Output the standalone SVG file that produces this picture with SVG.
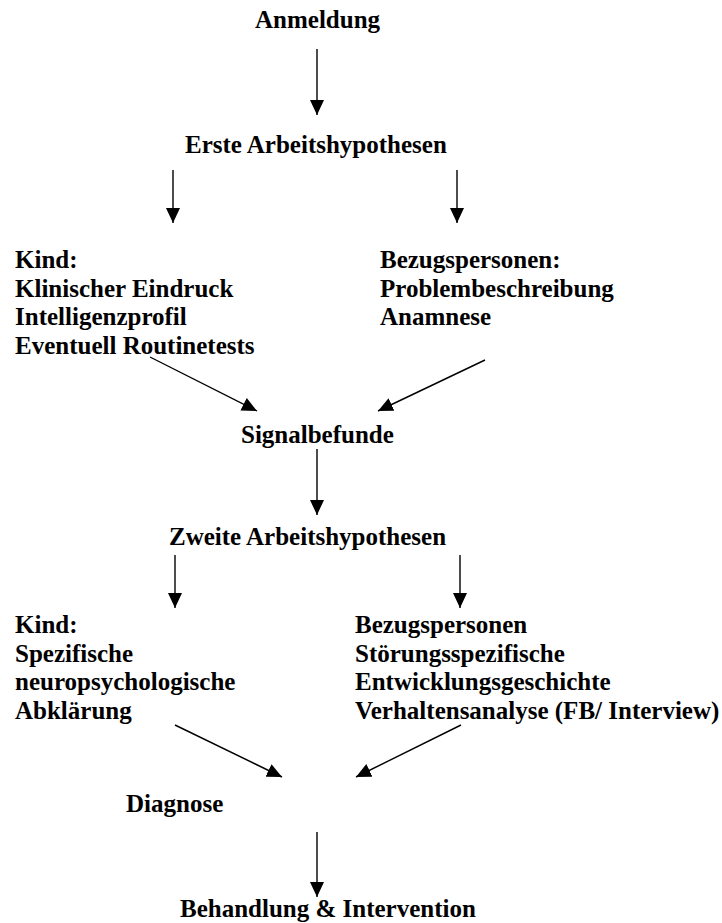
<svg xmlns="http://www.w3.org/2000/svg" width="722" height="923" viewBox="0 0 722 923">
<style>
text{font-family:"Liberation Serif","Times New Roman",serif;font-weight:bold;font-size:25px;fill:#000}
.c line{stroke:#000;stroke-width:1.4;marker-end:url(#ah)}
</style>
<defs>
<marker id="ah" markerUnits="userSpaceOnUse" markerWidth="15" markerHeight="14" refX="15" refY="7" orient="auto">
<path d="M0,0 L15,7 L0,14 z" fill="#000"/>
</marker>
</defs>
<rect width="722" height="923" fill="#fff"/>
<g id="anmeldung"><text x="255" y="28">Anmeldung</text></g>
<g id="erste"><text x="185" y="153">Erste Arbeitshypothesen</text></g>
<g id="kind1">
<text x="15" y="268">Kind:</text>
<text x="15" y="296.5">Klinischer Eindruck</text>
<text x="15" y="325">Intelligenzprofil</text>
<text x="15" y="353.5">Eventuell Routinetests</text>
</g>
<g id="bezug1">
<text x="380" y="268">Bezugspersonen:</text>
<text x="380" y="296.5">Problembeschreibung</text>
<text x="380" y="325">Anamnese</text>
</g>
<g id="signal"><text x="241" y="443">Signalbefunde</text></g>
<g id="zweite"><text x="169" y="545">Zweite Arbeitshypothesen</text></g>
<g id="kind2">
<text x="15" y="633">Kind:</text>
<text x="15" y="661.5">Spezifische</text>
<text x="15" y="690">neuropsychologische</text>
<text x="15" y="718.5">Abklärung</text>
</g>
<g id="bezug2">
<text x="355" y="633">Bezugspersonen</text>
<text x="355" y="661.5">Störungsspezifische</text>
<text x="355" y="690">Entwicklungsgeschichte</text>
<text x="355" y="718.5">Verhaltensanalyse (FB/ Interview)</text>
</g>
<g id="diagnose"><text x="126" y="812">Diagnose</text></g>
<g id="behandlung"><text x="180" y="917">Behandlung &amp; Intervention</text></g>
<g id="connectors" class="c">
<line x1="317" y1="49" x2="317" y2="115"/>
<line x1="173" y1="170" x2="173" y2="223"/>
<line x1="457" y1="170" x2="457" y2="223"/>
<line x1="150" y1="357" x2="257" y2="411"/>
<line x1="485" y1="360" x2="378" y2="411"/>
<line x1="317" y1="449" x2="317" y2="515"/>
<line x1="175" y1="555" x2="175" y2="608"/>
<line x1="460" y1="555" x2="460" y2="608"/>
<line x1="175" y1="725" x2="282" y2="777"/>
<line x1="461" y1="725" x2="356" y2="777"/>
<line x1="317" y1="832" x2="317" y2="897"/>
</g>
</svg>
